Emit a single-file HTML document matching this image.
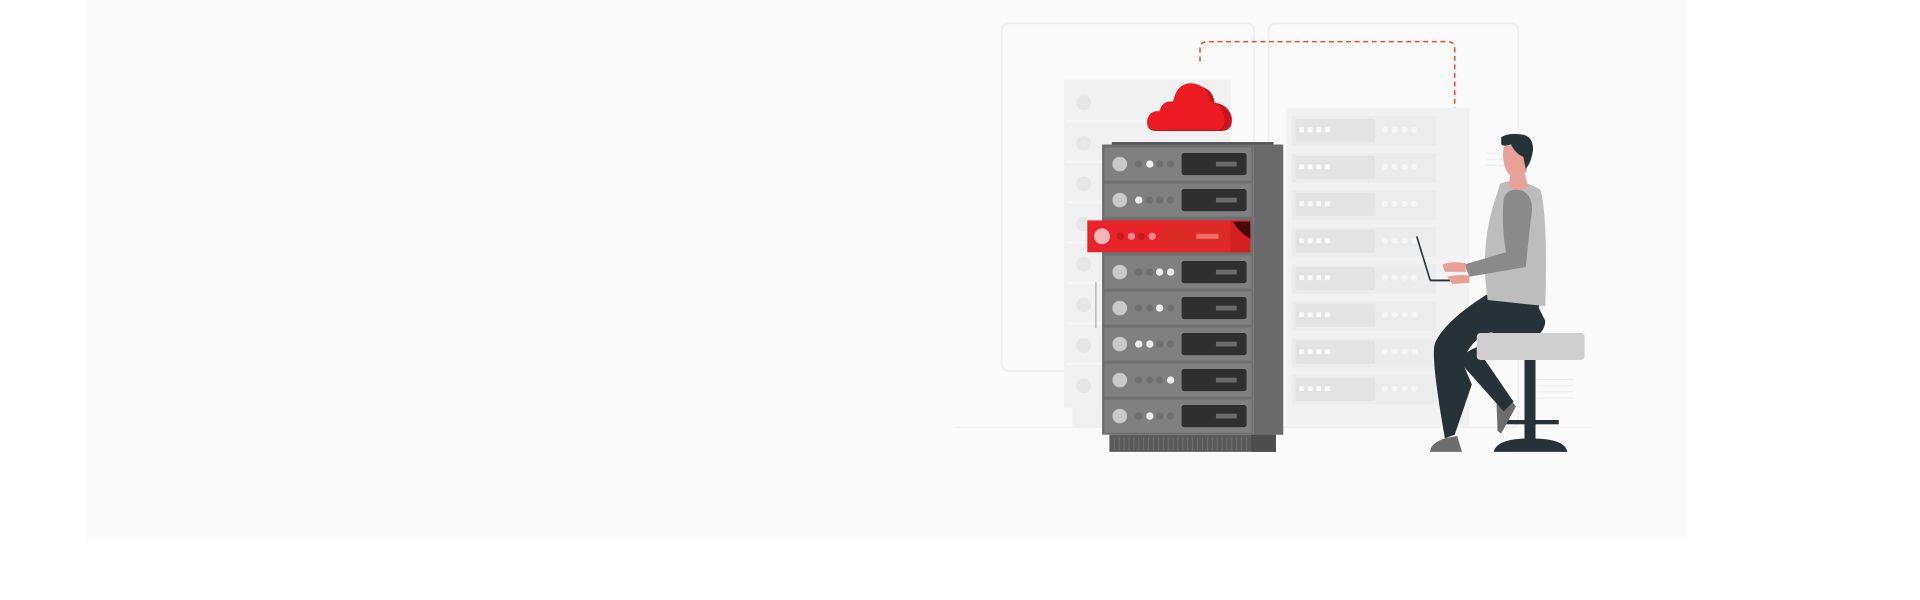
<!DOCTYPE html>
<html><head><meta charset="utf-8"><style>
html,body{margin:0;padding:0;background:#fff;width:1920px;height:600px;overflow:hidden}
svg{display:block}
</style></head><body>
<svg width="1920" height="600" viewBox="0 0 1568 490" xmlns="http://www.w3.org/2000/svg">
<rect x="70" y="0" width="1308" height="440" fill="#fafafa"/>
<!-- faint panels -->
<rect x="818" y="19" width="206" height="284" rx="6" fill="none" stroke="#f0f0f0" stroke-width="1.5"/>
<rect x="1036" y="19" width="204" height="330" rx="6" fill="none" stroke="#f0f0f0" stroke-width="1.5"/>
<line x1="780" y1="349" x2="1300" y2="349" stroke="#f0f0f0" stroke-width="1"/>
<!-- dashed path -->
<path d="M980 50 V40 Q980 34 986 34 H1182 Q1188 34 1188 40 V113" fill="none" stroke="#e8502f" stroke-width="1.3" stroke-dasharray="4 3"/>
<!-- back left rack -->
<rect x="869" y="65" width="136" height="268" fill="#f1f1f1"/>
<g fill="#e6e6e6">
<circle cx="885" cy="84" r="6"/><circle cx="885" cy="117" r="6"/><circle cx="885" cy="150" r="6"/><circle cx="885" cy="183" r="6"/><circle cx="885" cy="216" r="6"/><circle cx="885" cy="249" r="6"/><circle cx="885" cy="282" r="6"/><circle cx="885" cy="315" r="6"/>
</g>
<g fill="#f7f7f7"><rect x="871" y="98" width="130" height="2"/><rect x="871" y="131" width="130" height="2"/><rect x="871" y="164" width="130" height="2"/><rect x="871" y="197" width="130" height="2"/><rect x="871" y="230" width="130" height="2"/><rect x="871" y="263" width="130" height="2"/><rect x="871" y="296" width="130" height="2"/></g>
<rect x="876" y="333" width="150" height="16" fill="#f0f0f0"/>
<line x1="895" y1="230" x2="895" y2="268" stroke="#999" stroke-width="0.8"/>
<!-- back right rack -->
<rect x="1050" y="88" width="150" height="260" fill="#f2f2f2"/>
<g id="rr">
<rect x="1055" y="95" width="118" height="24" fill="#ececec"/>
<rect x="1058" y="97" width="65" height="19" rx="2" fill="#e3e3e3"/>
<g fill="#fafafa"><rect x="1061" y="104" width="4" height="4"/><rect x="1068" y="104" width="4" height="4"/><rect x="1075" y="104" width="4" height="4"/><rect x="1082" y="104" width="4" height="4"/></g>
<g fill="#f6f6f6"><circle cx="1131" cy="106" r="2.5"/><circle cx="1139" cy="106" r="2.5"/><circle cx="1147" cy="106" r="2.5"/><circle cx="1155" cy="106" r="2.5"/></g>
</g>
<use href="#rr" y="30.2"/><use href="#rr" y="60.4"/><use href="#rr" y="90.6"/><use href="#rr" y="120.8"/><use href="#rr" y="151"/><use href="#rr" y="181.2"/><use href="#rr" y="211.4"/>
<g stroke="#ececec" stroke-width="0.7"><line x1="1213" y1="125" x2="1230" y2="125"/><line x1="1213" y1="130" x2="1230" y2="130"/><line x1="1213" y1="135" x2="1230" y2="135"/><line x1="1255" y1="310" x2="1285" y2="310"/><line x1="1255" y1="315" x2="1285" y2="315"/><line x1="1255" y1="320" x2="1285" y2="320"/><line x1="1255" y1="325" x2="1285" y2="325"/></g>
<!-- cloud -->
<path d="M944 107 Q936 107 937 98 Q939 90 947 91 Q949 82 958 83 Q961 70 975 70 Q990 70 992 84 Q1003 85 1006 96 Q1007 107 997 107 Z" fill="#c8151d"/>
<path d="M944 106 Q936 106 937 98 Q939 90 947 91 Q949 82 958 83 Q961 68 973 68 Q986 69 988 83 Q998 85 1000 96 Q1001 106 992 106 Z" fill="#ed1c24"/>
<!-- main rack -->
<rect x="908" y="116" width="132" height="3" fill="#555"/>
<rect x="1024" y="118" width="24" height="237" fill="#6a6a6a"/>
<rect x="900" y="118" width="124" height="237" fill="#6f6f6f"/>
<rect x="906" y="355" width="136" height="14" fill="#5a5a5a"/>
<g stroke="#777" stroke-width="0.6">
<line x1="910" y1="357" x2="910" y2="368"/><line x1="914" y1="357" x2="914" y2="368"/><line x1="918" y1="357" x2="918" y2="368"/><line x1="922" y1="357" x2="922" y2="368"/><line x1="926" y1="357" x2="926" y2="368"/><line x1="930" y1="357" x2="930" y2="368"/><line x1="934" y1="357" x2="934" y2="368"/><line x1="938" y1="357" x2="938" y2="368"/><line x1="942" y1="357" x2="942" y2="368"/><line x1="946" y1="357" x2="946" y2="368"/><line x1="950" y1="357" x2="950" y2="368"/><line x1="954" y1="357" x2="954" y2="368"/><line x1="958" y1="357" x2="958" y2="368"/><line x1="962" y1="357" x2="962" y2="368"/><line x1="966" y1="357" x2="966" y2="368"/><line x1="970" y1="357" x2="970" y2="368"/><line x1="974" y1="357" x2="974" y2="368"/><line x1="978" y1="357" x2="978" y2="368"/><line x1="982" y1="357" x2="982" y2="368"/><line x1="986" y1="357" x2="986" y2="368"/><line x1="990" y1="357" x2="990" y2="368"/><line x1="994" y1="357" x2="994" y2="368"/><line x1="998" y1="357" x2="998" y2="368"/><line x1="1002" y1="357" x2="1002" y2="368"/><line x1="1006" y1="357" x2="1006" y2="368"/><line x1="1010" y1="357" x2="1010" y2="368"/><line x1="1014" y1="357" x2="1014" y2="368"/><line x1="1018" y1="357" x2="1018" y2="368"/>
</g>
<rect x="1022" y="355" width="20" height="14" fill="#4e4e4e"/>
<g id="u">
<rect x="902" y="120.5" width="120" height="27" fill="#808080"/>
<circle cx="914.5" cy="134" r="6" fill="#c9c9c9"/>
<rect x="965" y="125" width="53" height="18" rx="2" fill="#2f2f2f"/>
<rect x="993" y="132" width="17" height="4" fill="#6a6a6a"/>
</g>
<g fill="#707070"><circle cx="930" cy="134" r="3"/><circle cx="947" cy="134" r="3"/><circle cx="956" cy="134" r="3"/></g><circle cx="939" cy="134" r="3" fill="#eee"/>
<use href="#u" y="29.4"/>
<g fill="#707070"><circle cx="939" cy="163.4" r="3"/><circle cx="947" cy="163.4" r="3"/><circle cx="956" cy="163.4" r="3"/></g><circle cx="930" cy="163.4" r="3" fill="#eee"/>
<use href="#u" y="88.2"/>
<g fill="#707070"><circle cx="930" cy="222.2" r="3"/><circle cx="939" cy="222.2" r="3"/></g><g fill="#eee"><circle cx="947" cy="222.2" r="3"/><circle cx="956" cy="222.2" r="3"/></g>
<use href="#u" y="117.6"/>
<g fill="#707070"><circle cx="930" cy="251.6" r="3"/><circle cx="939" cy="251.6" r="3"/><circle cx="956" cy="251.6" r="3"/></g><circle cx="947" cy="251.6" r="3" fill="#eee"/>
<use href="#u" y="147"/>
<g fill="#707070"><circle cx="947" cy="281" r="3"/><circle cx="956" cy="281" r="3"/></g><g fill="#eee"><circle cx="930" cy="281" r="3"/><circle cx="939" cy="281" r="3"/></g>
<use href="#u" y="176.4"/>
<g fill="#707070"><circle cx="930" cy="310.4" r="3"/><circle cx="939" cy="310.4" r="3"/><circle cx="947" cy="310.4" r="3"/></g><circle cx="956" cy="310.4" r="3" fill="#eee"/>
<use href="#u" y="205.8"/>
<g fill="#707070"><circle cx="930" cy="339.8" r="3"/><circle cx="947" cy="339.8" r="3"/><circle cx="956" cy="339.8" r="3"/></g><circle cx="939" cy="339.8" r="3" fill="#eee"/>
<!-- red unit -->
<rect x="888" y="180" width="133" height="26" fill="#e8232a"/>
<rect x="950" y="184" width="55" height="18" rx="2" fill="#dc2a24"/>
<rect x="1005" y="180" width="16" height="26" fill="#d42020"/>
<path d="M1007 181 H1021 V195 Q1012 190 1007 181 Z" fill="#4a0808"/>
<rect x="977" y="191" width="18" height="4" fill="#f07070"/>
<circle cx="900" cy="193" r="6.5" fill="#f6b8b8"/>
<g fill="#c81a20"><circle cx="915" cy="193" r="3"/><circle cx="932" cy="193" r="3"/></g><g fill="#f38a8a"><circle cx="924" cy="193" r="3"/><circle cx="941" cy="193" r="3"/></g>
<!-- stool -->
<rect x="1245" y="293" width="9" height="67" fill="#263238"/>
<rect x="1226" y="343" width="47" height="3.5" fill="#263238"/>
<path d="M1220 369 Q1222 358 1250 358 Q1278 358 1280 369 Z" fill="#263238"/>
<!-- person -->
<path d="M1222 325 L1230 322 L1238 332 L1226 354 L1223 352 Z" fill="#6d6d6d"/>
<path d="M1252 242 L1262 262 Q1262 275 1238 283 L1210 290 L1236 328 L1228 336 L1196 300 Q1190 290 1205 284 Z" fill="#263238"/>
<path d="M1215 240 L1258 248 Q1250 268 1215 272 Q1195 282 1196 300 L1202 314 L1188 355 L1180 358 Q1168 290 1172 280 Q1180 262 1215 240 Z" fill="#263238"/>
<path d="M1168 369 Q1168 362 1180 358 L1190 356 L1194 369 Z" fill="#6d6d6d"/>
<rect x="1206" y="272" width="88" height="22" rx="3" fill="#d0cfd0"/>
<path d="M1225 150 Q1240 144 1258 155 Q1264 175 1262 250 L1215 245 Q1208 200 1222 160 Z" fill="#bdbdbd"/>
<path d="M1234 138 L1244 138 L1248 152 Q1240 158 1232 152 Z" fill="#e8a197"/>
<path d="M1228 162 Q1232 152 1244 156 Q1254 162 1250 180 L1246 218 L1200 226 L1196 216 L1230 206 Q1226 185 1228 162 Z" fill="#8a8a8a"/>
<line x1="1157" y1="193" x2="1168" y2="229" stroke="#263238" stroke-width="1.3"/>
<line x1="1168" y1="229" x2="1198" y2="229" stroke="#263238" stroke-width="1.5"/>
<path d="M1178 216 Q1186 213 1197 215 L1197 222 L1180 222 Z" fill="#e8a197"/>
<path d="M1182 226 Q1190 224 1200 225 L1200 231 L1186 232 Z" fill="#e8a197"/>
<path d="M1228 120 Q1238 116 1245 122 L1247 140 Q1240 146 1232 142 Q1226 134 1228 120 Z" fill="#e8a197"/>
<path d="M1226 112 Q1232 108 1244 110 Q1252 112 1252 122 Q1251 132 1246 138 L1244 128 Q1238 126 1234 118 Q1228 120 1226 118 Z" fill="#263238"/>
</svg>
</body></html>
